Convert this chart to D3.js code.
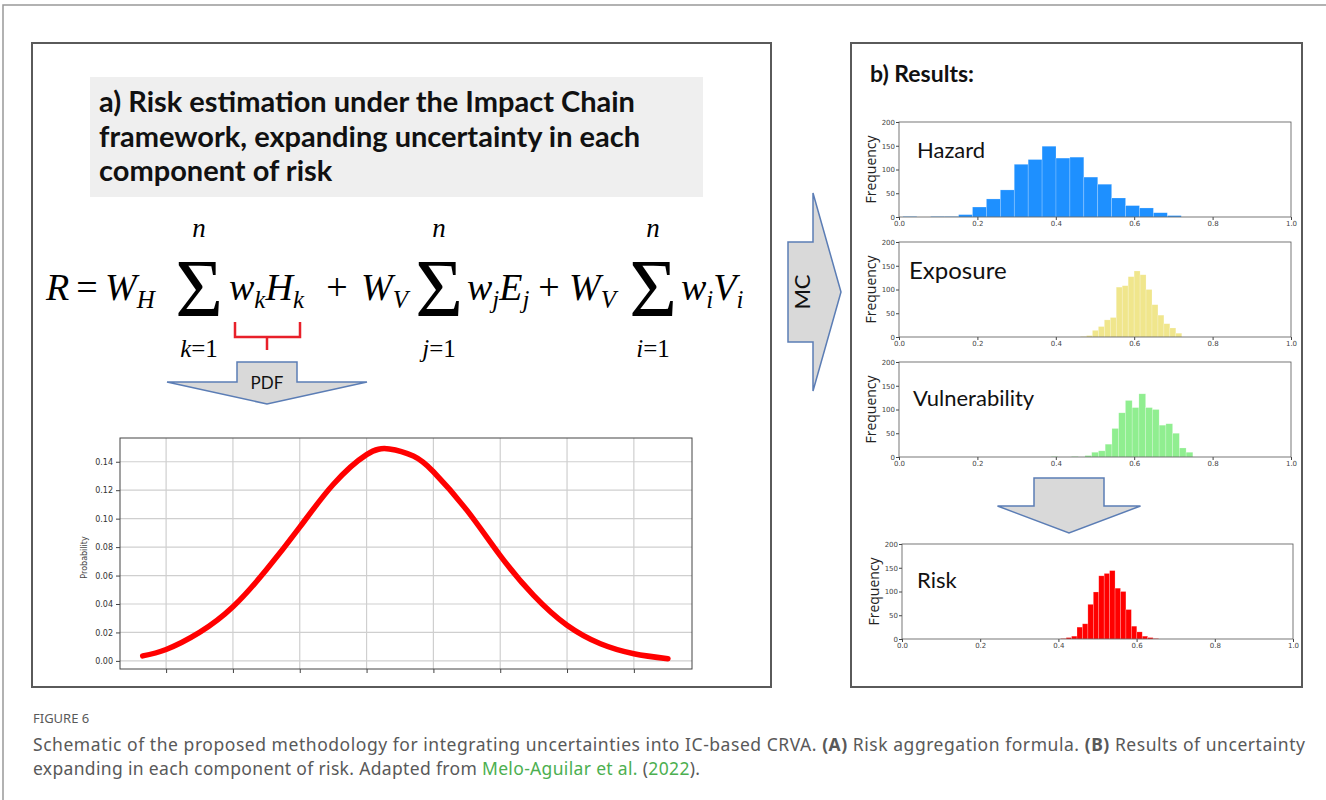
<!DOCTYPE html>
<html>
<head>
<meta charset="utf-8">
<script src="https://cdn.jsdelivr.net/npm/d3@7"></script>
<style>
  body { margin: 0; background: #fff; }
  svg { display: block; }
</style>
</head>
<body>
<script>
// ---- data ----
// left panel: probability density curve (x in unlabelled tick units)
const pdfX = [0.65, 1.0, 1.5, 2.0, 2.5, 3.0, 3.5, 4.0, 4.34, 4.7, 5.0, 5.5, 6.0, 6.5, 7.0, 7.5, 8.0, 8.51];
const pdfY = [0.0035, 0.008, 0.020, 0.038, 0.064, 0.094, 0.124, 0.145, 0.149, 0.144, 0.133, 0.106, 0.074, 0.046, 0.025, 0.012, 0.005, 0.0015];
const pdfYTicks = [0, 0.02, 0.04, 0.06, 0.08, 0.10, 0.12, 0.14];
const pdfXTicks = [1, 2, 3, 4, 5, 6, 7, 8];

// right panel: histograms (first bin edge, bin width, counts)
const hazardStart = 0.010, hazardBin = 0.0355;
const hazardCounts = [1, 0, 1, 1, 5, 21, 38, 57, 111, 121, 149, 124, 126, 84, 69, 40, 24, 19, 9, 3];
const exposureStart = 0.463, exposureBin = 0.0152;
const exposureCounts = [1, 3, 14, 22, 36, 41, 105, 108, 127, 139, 131, 100, 68, 46, 28, 19, 8];
const vulnStart = 0.3884, vulnBin = 0.0172;
const vulnCounts = [1, 0, 0, 1, 0, 3, 10, 13, 27, 60, 93, 119, 104, 133, 104, 100, 67, 70, 50, 19, 10];
const riskStart = 0.4059, riskBin = 0.0139;
const riskCounts = [1, 3, 6, 25, 32, 73, 99, 133, 138, 144, 107, 100, 62, 27, 15, 6, 3, 1];
const histXTicks = [0, 0.2, 0.4, 0.6, 0.8, 1.0];
const histYTicks = [0, 50, 100, 150, 200];

const titleLines = ["a) Risk estimation under the Impact Chain", "framework, expanding uncertainty in each", "component of risk"];

const W = 1326, H = 800;
const svg = d3.select("body").append("svg").attr("width", W).attr("height", H);

// page frame
svg.append("path").attr("d", "M3,800 V5 H1326").attr("fill", "none").attr("stroke", "#999").attr("stroke-width", 1.5);

// panel boxes
svg.append("rect").attr("x", 32).attr("y", 43).attr("width", 739).attr("height", 644)
  .attr("fill", "#fff").attr("stroke", "#5a5a5a").attr("stroke-width", 2);
svg.append("rect").attr("x", 851).attr("y", 43).attr("width", 451).attr("height", 644)
  .attr("fill", "#fff").attr("stroke", "#5a5a5a").attr("stroke-width", 2);

// ---- title box ----
svg.append("rect").attr("x", 90).attr("y", 77).attr("width", 613).attr("height", 120).attr("fill", "#efefef");
svg.append("g").selectAll("text").data(titleLines).join("text")
  .attr("x", 99).attr("y", (d, i) => 112 + i * 34.5)
  .attr("font-family", "Lato, sans-serif").attr("font-weight", "bold").attr("font-size", 29)
  .attr("fill", "#111").text(d => d);

// ---- formula ----
const fm = svg.append("g").attr("font-family", "'Liberation Serif', serif").attr("fill", "#000");
const base = 300;
function term(x, parts, anchor) {
  const t = fm.append("text").attr("x", x).attr("y", base).attr("font-size", 38)
    .attr("text-anchor", anchor || "start");
  parts.forEach(p => {
    const s = t.append("tspan").text(p.t).attr("font-style", p.up ? "normal" : "italic");
    if (p.sub) s.attr("font-size", 25).attr("dy", 8);
    if (p.back) s.attr("dy", -8);
  });
}
function sigma(cx, lower) {
  fm.append("text").attr("x", cx).attr("y", 316).attr("text-anchor", "middle")
    .attr("font-size", 82).text("\u03A3");
  fm.append("text").attr("x", cx).attr("y", 237).attr("text-anchor", "middle")
    .attr("font-size", 27).attr("font-style", "italic").text("n");
  const lo = fm.append("text").attr("x", cx).attr("y", 357).attr("text-anchor", "middle").attr("font-size", 25);
  lo.append("tspan").attr("font-style", "italic").text(lower);
  lo.append("tspan").text("=1");
}
term(46, [{t: "R"}]);
term(87, [{t: "=", up: true}], "middle");
term(105, [{t: "W"}, {t: "H", sub: true}]);
sigma(199, "k");
term(229, [{t: "w"}, {t: "k", sub: true}, {t: "H", back: true}, {t: "k", sub: true}]);
term(337, [{t: "+", up: true}], "middle");
term(361, [{t: "W"}, {t: "V", sub: true}]);
sigma(439, "j");
term(467, [{t: "w"}, {t: "j", sub: true}, {t: "E", back: true}, {t: "j", sub: true}]);
term(549, [{t: "+", up: true}], "middle");
term(569, [{t: "W"}, {t: "V", sub: true}]);
sigma(653, "i");
term(681, [{t: "w"}, {t: "i", sub: true}, {t: "V", back: true}, {t: "i", sub: true}]);

// red bracket under w_k H_k
svg.append("path").attr("d", "M235,322 V337 H300 V322 M267,337 V350")
  .attr("fill", "none").attr("stroke", "#e8202a").attr("stroke-width", 2.5);

// arrows
function arrowDown(cx, top, rectW, wingY, wingW, tipY) {
  const pts = [[cx - rectW / 2, wingY], [cx - rectW / 2, top], [cx + rectW / 2, top], [cx + rectW / 2, wingY],
               [cx + wingW / 2, wingY], [cx, tipY], [cx - wingW / 2, wingY]];
  return svg.append("polygon").attr("points", pts.map(p => p.join(",")).join(" "))
    .attr("fill", "#d9d9d9").attr("stroke", "#5b7db5").attr("stroke-width", 1.5);
}
arrowDown(267, 362, 60, 382, 200, 404);
svg.append("text").attr("x", 267).attr("y", 389).attr("text-anchor", "middle")
  .attr("font-family", "Lato, sans-serif").attr("font-size", 17).attr("fill", "#111").text("PDF");
arrowDown(1069, 478, 70, 506, 143, 533);

// MC arrow pointing right
svg.append("polygon")
  .attr("points", [[788, 242], [813, 242], [813, 193], [841, 292], [813, 391], [813, 342], [788, 342]].map(p => p.join(",")).join(" "))
  .attr("fill", "#d9d9d9").attr("stroke", "#5b7db5").attr("stroke-width", 1.5);
svg.append("text").attr("transform", "translate(802,292) rotate(-90)")
  .attr("text-anchor", "middle").attr("dy", "0.36em")
  .attr("font-family", "Lato, sans-serif").attr("font-size", 22).attr("fill", "#111").text("MC");

// ---- left PDF chart ----
{
  const L = 120, T = 438, w = 572, h = 231;
  const g = svg.append("g").attr("transform", `translate(${L},${T})`);
  const x = d3.scaleLinear().domain([0.31, 8.87]).range([0, w]);
  const y = d3.scaleLinear().domain([-0.0057, 0.1567]).range([h, 0]);
  g.append("g").selectAll("line").data(pdfXTicks).join("line")
    .attr("x1", d => x(d)).attr("x2", d => x(d)).attr("y1", 0).attr("y2", h)
    .attr("stroke", "#cfcfcf").attr("stroke-width", 1.2);
  g.append("g").selectAll("line").data(pdfYTicks).join("line")
    .attr("x1", 0).attr("x2", w).attr("y1", d => y(d)).attr("y2", d => y(d))
    .attr("stroke", "#cfcfcf").attr("stroke-width", 1.2);
  const ya = g.append("g").call(d3.axisLeft(y).tickValues(pdfYTicks).tickFormat(d3.format(".2f")).tickSize(4));
  const xa = g.append("g").attr("transform", `translate(0,${h})`)
    .call(d3.axisBottom(x).tickValues(pdfXTicks).tickFormat("").tickSize(4));
  [ya, xa].forEach(a => {
    a.select(".domain").remove();
    a.selectAll("line").attr("stroke", "#444");
    a.selectAll("text").attr("font-family", "'DejaVu Sans', sans-serif").attr("font-size", 8).attr("fill", "#333");
  });
  g.append("rect").attr("width", w).attr("height", h).attr("fill", "none").attr("stroke", "#444").attr("stroke-width", 1);
  g.append("text").attr("transform", `translate(-33,${h / 2 + 4}) rotate(-90)`).attr("text-anchor", "middle")
    .attr("font-family", "'DejaVu Sans', sans-serif").attr("font-size", 8).attr("fill", "#444").text("Probability");
  const line = d3.line().x((d, i) => x(pdfX[i])).y(d => y(d)).curve(d3.curveNatural);
  g.append("path").datum(pdfY).attr("d", line).attr("fill", "none")
    .attr("stroke", "#ff0000").attr("stroke-width", 5.5).attr("stroke-linecap", "round");
}

// ---- histograms ----
function hist(L, T, w, h, start, bin, counts, color, label, labelSize, lx, ly) {
  const g = svg.append("g").attr("transform", `translate(${L},${T})`);
  const x = d3.scaleLinear().domain([0, 1]).range([0, w]);
  const y = d3.scaleLinear().domain([0, 200]).range([h, 0]);
  g.append("g").selectAll("rect").data(counts).join("rect")
    .attr("x", (d, i) => x(start + i * bin))
    .attr("width", x(bin) - x(0))
    .attr("y", d => y(d)).attr("height", d => h - y(d))
    .attr("fill", color).attr("stroke", "#fff").attr("stroke-opacity", 0.35).attr("stroke-width", 0.6);
  const xa = g.append("g").attr("transform", `translate(0,${h})`)
    .call(d3.axisBottom(x).tickValues(histXTicks).tickFormat(d3.format(".1f")).tickSize(3).tickPadding(1));
  const ya = g.append("g").call(d3.axisLeft(y).tickValues(histYTicks).tickSize(3).tickPadding(1));
  [xa, ya].forEach(a => {
    a.select(".domain").remove();
    a.selectAll("line").attr("stroke", "#444");
    a.selectAll("text").attr("font-family", "'DejaVu Sans', sans-serif").attr("font-size", 7).attr("fill", "#444");
  });
  g.append("rect").attr("width", w).attr("height", h).attr("fill", "none").attr("stroke", "#555").attr("stroke-width", 0.8);
  g.append("text").attr("transform", `translate(-23,${h / 2}) rotate(-90)`).attr("text-anchor", "middle")
    .attr("font-family", "'Open Sans', sans-serif").attr("font-size", 14).attr("fill", "#222").text("Frequency");
  g.append("text").attr("x", lx).attr("y", ly).attr("font-family", "Lato, sans-serif")
    .attr("font-size", labelSize).attr("fill", "#111").text(label);
}
hist(899, 122, 392, 95, hazardStart, hazardBin, hazardCounts, "#1e90ff", "Hazard", 22, 18, 36);
hist(899, 242, 392, 95, exposureStart, exposureBin, exposureCounts, "#f0e68c", "Exposure", 24, 10, 37);
hist(899, 362, 392, 95, vulnStart, vulnBin, vulnCounts, "#90ee90", "Vulnerability", 22, 14, 44);
hist(902, 544, 391, 95, riskStart, riskBin, riskCounts, "#ff0000", "Risk", 22, 15, 44);

svg.append("text").attr("x", 870).attr("y", 82).attr("font-family", "Lato, sans-serif")
  .attr("font-weight", "bold").attr("font-size", 23).attr("fill", "#111").text("b) Results:");

// ---- caption ----
const cap = svg.append("g").attr("font-family", "'Noto Sans', sans-serif").attr("fill", "#595959");
cap.append("text").attr("x", 33).attr("y", 723).attr("font-size", 13).text("FIGURE 6");
const l1 = cap.append("text").attr("x", 33).attr("y", 751).attr("font-size", 17.5)
  .attr("textLength", 1272).attr("lengthAdjust", "spacing");
l1.append("tspan").text("Schematic of the proposed methodology for integrating uncertainties into IC-based CRVA. ");
l1.append("tspan").attr("font-weight", "bold").text("(A)");
l1.append("tspan").text(" Risk aggregation formula. ");
l1.append("tspan").attr("font-weight", "bold").text("(B)");
l1.append("tspan").text(" Results of uncertainty");
const l2 = cap.append("text").attr("x", 33).attr("y", 775).attr("font-size", 17.5)
  .attr("textLength", 667).attr("lengthAdjust", "spacing");
l2.append("tspan").text("expanding in each component of risk. Adapted from ");
l2.append("tspan").attr("fill", "#4caf50").text("Melo-Aguilar et al.");
l2.append("tspan").text(" (");
l2.append("tspan").attr("fill", "#4caf50").text("2022");
l2.append("tspan").text(").");
</script>
</body>
</html>
